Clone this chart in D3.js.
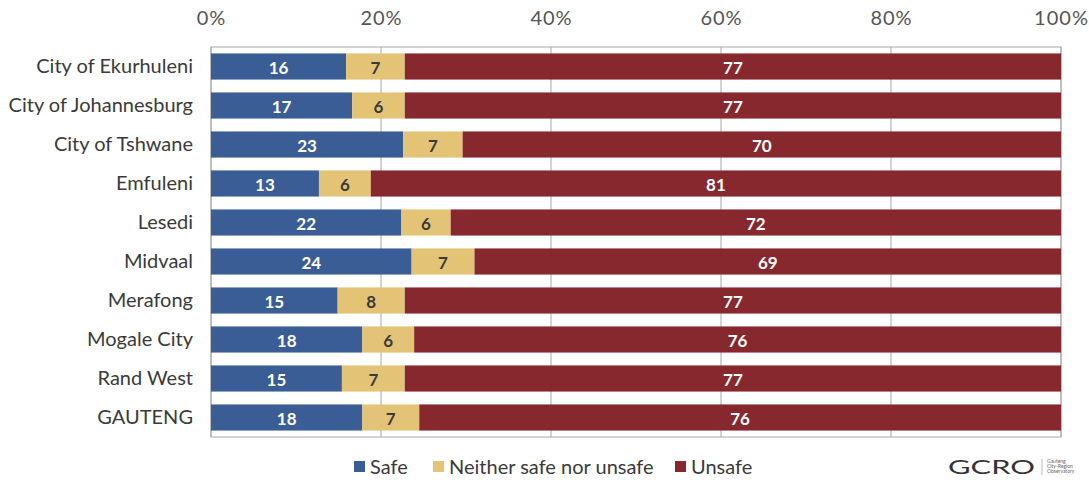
<!DOCTYPE html>
<html>
<head>
<meta charset="utf-8">
<script src="https://cdn.jsdelivr.net/npm/d3@7"></script>
<style>
  body { margin: 0; background: #fff; }
  text { font-family: Lato, "Open Sans", sans-serif; }
</style>
</head>
<body>
<svg id="chart" width="1089" height="480"></svg>
<script>
// Municipalities, top to bottom
const categories = ["City of Ekurhuleni", "City of Johannesburg", "City of Tshwane", "Emfuleni",
  "Lesedi", "Midvaal", "Merafong", "Mogale City", "Rand West", "GAUTENG"];

// Share of respondents (%)
const safe    = [15.9, 16.6, 22.6, 12.7, 22.4, 23.6, 14.9, 17.8, 15.4, 17.8];
const neither = [6.9, 6.2, 7.0, 6.1, 5.8, 7.4, 7.9, 6.1, 7.4, 6.7];
const unsafe  = [77.2, 77.2, 70.4, 81.2, 71.8, 69.0, 77.2, 76.1, 77.2, 75.5];

const seriesNames = ["Safe", "Neither safe nor unsafe", "Unsafe"];
const seriesKeys = ["safe", "neither", "unsafe"];
const colors = ["#3b5d96", "#e3c477", "#86282e"];
const labelColors = ["#ffffff", "#3a3a3a", "#ffffff"];
const tickValues = [0, 0.2, 0.4, 0.6, 0.8, 1];

const svg = d3.select("#chart");
const margin = { top: 47, right: 28, bottom: 43, left: 211 };
const width = 1089 - margin.left - margin.right;
const height = 480 - margin.top - margin.bottom;

const rows = categories.map((c, i) => ({ name: c, safe: safe[i], neither: neither[i], unsafe: unsafe[i] }));

const stack = d3.stack().keys(seriesKeys).offset(d3.stackOffsetExpand);
const stacked = stack(rows);

const x = d3.scaleLinear().domain([0, 1]).range([0, width]);
const y = d3.scaleBand().domain(categories).range([0, height]).paddingInner(0.33).paddingOuter(0.165);

const g = svg.append("g").attr("transform", `translate(${margin.left},${margin.top})`);

// gridlines
g.append("g")
  .selectAll("line")
  .data(tickValues)
  .join("line")
  .attr("x1", d => x(d)).attr("x2", d => x(d))
  .attr("y1", 0).attr("y2", height)
  .attr("stroke", "#a8a8a8").attr("stroke-width", 1);

// frame
g.append("rect")
  .attr("x", 0).attr("y", 0).attr("width", width).attr("height", height)
  .attr("fill", "none").attr("stroke", "#a8a8a8").attr("stroke-width", 1);

// bars
const layer = g.selectAll("g.layer")
  .data(stacked)
  .join("g")
  .attr("class", "layer")
  .attr("fill", (d, i) => colors[i]);

layer.selectAll("rect")
  .data(d => d)
  .join("rect")
  .attr("x", d => x(d[0]))
  .attr("y", d => y(d.data.name))
  .attr("width", d => x(d[1]) - x(d[0]))
  .attr("height", y.bandwidth());

// value labels
layer.selectAll("text")
  .data((d, i) => d.map(v => ({ v, key: d.key, i })))
  .join("text")
  .attr("x", d => (x(d.v[0]) + x(d.v[1])) / 2)
  .attr("y", d => y(d.v.data.name) + y.bandwidth() / 2)
  .attr("dy", "0.42em")
  .attr("text-anchor", "middle")
  .attr("font-size", 17)
  .attr("font-weight", 700)
  .attr("fill", d => labelColors[d.i])
  .text(d => Math.round(d.v.data[d.key]));

// top axis
const xAxis = d3.axisTop(x)
  .tickValues(tickValues)
  .tickFormat(d3.format(".0%"))
  .tickSize(0)
  .tickPadding(22);

const ax = g.append("g").call(xAxis);
ax.select(".domain").remove();
ax.selectAll("text")
  .attr("font-size", 20)
  .attr("fill", "#555")
  .attr("letter-spacing", 1)
  .attr("font-family", "Lato, sans-serif");

// category axis
const yAxis = d3.axisLeft(y).tickSize(0).tickPadding(18);
const ay = g.append("g").call(yAxis);
ay.select(".domain").remove();
ay.selectAll("text")
  .attr("font-size", 20)
  .attr("fill", "#3a3a3a")
  .attr("font-family", "Lato, sans-serif");

// legend
const legendX = [354, 433, 675];
const legend = svg.append("g").attr("transform", "translate(0,467)");
const item = legend.selectAll("g")
  .data(seriesNames)
  .join("g")
  .attr("transform", (d, i) => `translate(${legendX[i]},0)`);
item.append("rect")
  .attr("x", 0).attr("y", -6).attr("width", 11).attr("height", 11)
  .attr("fill", (d, i) => colors[i]);
item.append("text")
  .attr("x", 16).attr("y", 0).attr("dy", "0.36em")
  .attr("font-size", 20)
  .attr("fill", "#3a3a3a")
  .text(d => d);

// GCRO mark
const logo = svg.append("g").attr("transform", "translate(948,467)");
logo.append("text")
  .attr("x", 0).attr("y", 0).attr("dy", "0.36em")
  .attr("font-size", 20)
  .attr("font-family", "DejaVu Sans, sans-serif")
  .attr("textLength", 87)
  .attr("lengthAdjust", "spacingAndGlyphs")
  .attr("fill", "#333")
  .text("GCRO");
logo.append("line")
  .attr("x1", 94).attr("x2", 94).attr("y1", -8).attr("y2", 8)
  .attr("stroke", "#bbb");
const small = ["Gauteng", "City-Region", "Observatory"];
logo.append("g").selectAll("text")
  .data(small)
  .join("text")
  .attr("x", 99)
  .attr("y", (d, i) => -4 + i * 5)
  .attr("font-size", 5)
  .attr("fill", "#666")
  .text(d => d);
</script>
</body>
</html>
